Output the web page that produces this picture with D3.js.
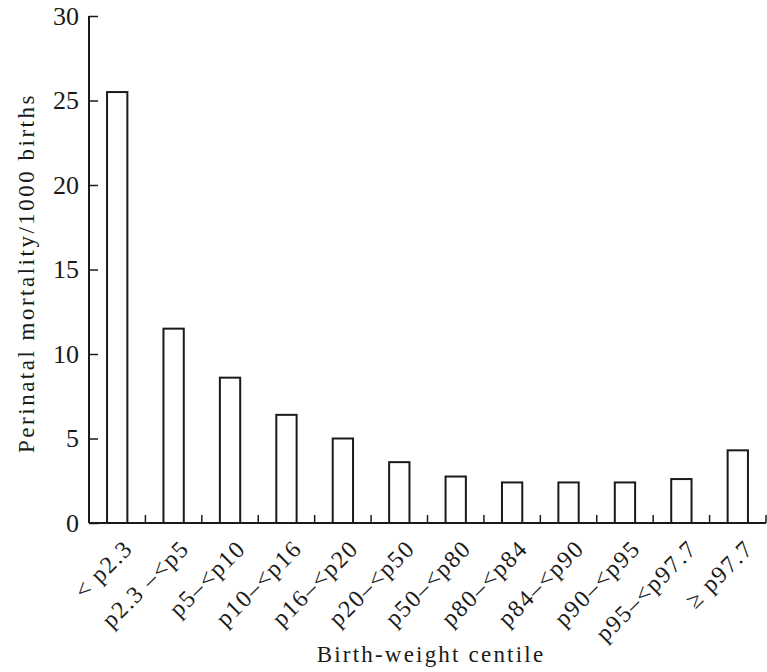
<!DOCTYPE html>
<html>
<head>
<meta charset="utf-8">
<script src="https://cdn.jsdelivr.net/npm/d3@7"></script>
<style>
  body { margin: 0; background: #fff; }
  svg { font-family: "Liberation Serif", "DejaVu Serif", serif; }
</style>
</head>
<body>
<svg id="chart" width="767" height="672"></svg>
<script>
// birth-weight centile groups and perinatal mortality per 1000 births
var centiles = ['< p2.3', 'p2.3 \u2013<p5', 'p5\u2013<p10', 'p10\u2013<p16', 'p16\u2013<p20',
    'p20\u2013<p50', 'p50\u2013<p80', 'p80\u2013<p84', 'p84\u2013<p90', 'p90\u2013<p95',
    'p95\u2013<p97.7', '\u2265 p97.7'];
var mortality = [25.5, 11.5, 8.6, 6.4, 5.0, 3.6, 2.75, 2.4, 2.4, 2.4, 2.6, 4.3];
var yTicks = [0, 5, 10, 15, 20, 25, 30];

var margin = {top: 16, left: 89, right: 1, bottom: 149};
var svg = d3.select('#chart');
var width = +svg.attr('width') - margin.left - margin.right;
var height = +svg.attr('height') - margin.top - margin.bottom;
var ink = '#1a1a1a';

var g = svg.append('g')
    .attr('transform', 'translate(' + margin.left + ',' + margin.top + ')');

var x = d3.scaleBand()
    .domain(centiles)
    .range([0, width])
    .paddingInner(0.64)
    .paddingOuter(0.32);

var y = d3.scaleLinear()
    .domain([0, 30])
    .range([height, 0]);

// bars
g.selectAll('.bar')
    .data(mortality)
  .enter()
  .append('rect')
    .attr('class', 'bar')
    .attr('x', function (d, i) { return x(centiles[i]); })
    .attr('y', function (d) { return y(d); })
    .attr('width', x.bandwidth())
    .attr('height', function (d) { return height - y(d); })
    .attr('fill', '#fff')
    .attr('stroke', ink)
    .attr('stroke-width', 2);

// y axis, ticks point inward
var yAxis = g.append('g')
    .call(d3.axisLeft(y).tickValues(yTicks).tickSize(-9).tickPadding(10));
yAxis.select('.domain').attr('d', 'M0,0V' + height).attr('stroke', ink).attr('stroke-width', 2);
yAxis.selectAll('.tick line').attr('stroke', ink).attr('stroke-width', 1.5);
yAxis.selectAll('.tick text')
    .attr('font-size', 26)
    .attr('fill', ink)
    .attr('font-family', '"Liberation Serif", serif');

// x axis: baseline with small upward ticks between groups
var step = x.step();
var xAxis = g.append('g')
    .attr('transform', 'translate(0,' + height + ')');
xAxis.append('line')
    .attr('x1', 0).attr('x2', width)
    .attr('stroke', ink).attr('stroke-width', 2);
xAxis.selectAll('.sep')
    .data(centiles)
  .enter()
  .append('line')
    .attr('class', 'sep')
    .attr('x1', function (d) { return x(d) - x.paddingOuter() * step + step; })
    .attr('x2', function (d) { return x(d) - x.paddingOuter() * step + step; })
    .attr('y1', 0).attr('y2', -8)
    .attr('stroke', ink).attr('stroke-width', 1.5);

xAxis.selectAll('.lbl')
    .data(centiles)
  .enter()
  .append('text')
    .attr('class', 'lbl')
    .attr('transform', function (d) {
        return 'translate(' + (x(d) + x.bandwidth() / 2 + 17) + ',27) rotate(-45)';
    })
    .attr('text-anchor', 'end')
    .attr('font-size', 24)
    .attr('letter-spacing', 1.6)
    .attr('fill', ink)
    .text(function (d) { return d; });

// axis titles
svg.append('text')
    .attr('transform', 'translate(34,273) rotate(-90)')
    .attr('text-anchor', 'middle')
    .attr('font-size', 23)
    .attr('letter-spacing', 2.5)
    .attr('fill', ink)
    .text('Perinatal mortality/1000 births');

svg.append('text')
    .attr('x', 431)
    .attr('y', 662)
    .attr('text-anchor', 'middle')
    .attr('font-size', 23)
    .attr('letter-spacing', 2.2)
    .attr('fill', ink)
    .text('Birth-weight centile');
</script>
</body>
</html>
